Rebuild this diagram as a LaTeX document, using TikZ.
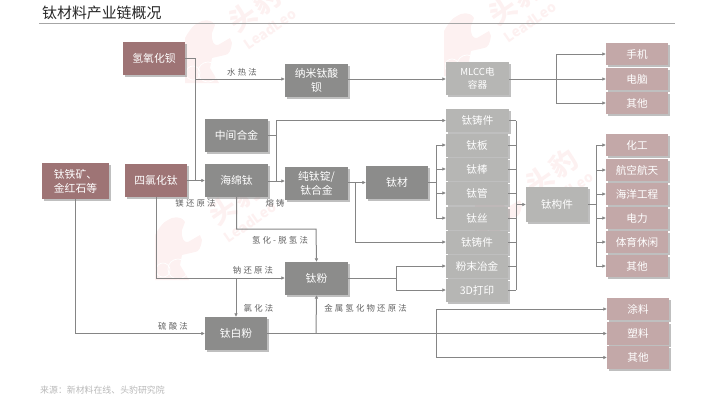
\documentclass[tikz,border=0pt]{standalone}
\usepackage{fontspec}
\setmainfont{Noto Sans CJK SC}
\newfontfamily\methodfont[LetterSpace=26]{Noto Sans CJK SC}
\usetikzlibrary{shadows,arrows.meta}
\definecolor{rustbox}{HTML}{9E7475}
\definecolor{darkbox}{HTML}{8C8C8B}
\definecolor{lightbox}{HTML}{B6B6B4}
\definecolor{pinkbox}{HTML}{C3A8A8}
\definecolor{linegrey}{HTML}{858585}
\definecolor{markpink}{HTML}{FDF1F1}
\tikzset{
  base/.style={text=white,inner sep=0pt,align=center,font=\fontsize{10.8}{14}\selectfont,
    drop shadow={shadow xshift=2.2pt,shadow yshift=-2.2pt,fill=black!50,opacity=.5}},
  rust/.style={base,fill=rustbox,minimum width=62pt,minimum height=33pt},
  dark/.style={base,fill=darkbox,minimum width=63pt,minimum height=33pt},
  light/.style={base,fill=lightbox,minimum width=62pt,minimum height=23pt,font=\fontsize{10.6}{13}\selectfont},
  pink/.style={base,fill=pinkbox,minimum width=62pt,minimum height=22.5pt,font=\fontsize{10.6}{13}\selectfont},
  method/.style={text=black!62,inner sep=0pt,font=\fontsize{8.4}{9}\methodfont},
  link/.style={draw=linegrey,line width=1pt},
  arrowlink/.style={link,-{Latex[length=3.5pt,width=3.8pt]}},
  markhead/.style={text=markpink,inner sep=0pt,rotate=35,font=\fontsize{27}{27}\selectfont\bfseries},
  markname/.style={text=markpink,inner sep=0pt,rotate=35,font=\fontsize{14}{14}\selectfont\bfseries}
}
\begin{document}
\begin{tikzpicture}[x=1pt,y=-1pt]
\useasboundingbox (0,0) rectangle (720,400);
% watermark
\foreach \lx/\ly/\hx/\hy [count=\wi] in {207/53/243/17,466/46/503/10,177/250/223/210,497/215/540/180}{
  \begin{scope}[shift={(\lx,\ly)}]
    \fill[markpink] (-22,30) -- (-22,-15) .. controls (-18,-22) and (-14,-28) .. (-9,-30)
      .. controls (-5,-33) and (4,-35) .. (8,-28) -- (5,-20) .. controls (4,-12) and (7,-7) .. (11,-8)
      -- (23,-15) -- (25,-10) .. controls (24,-3) and (22,2) .. (18,2) -- (5,5) -- (3,15) -- (12,30) -- cycle;
    \draw[white,line width=.7pt] (-14,20) circle (7) (1,19) circle (10);
  \end{scope}
  \node[markhead] (head\wi) at (\hx,\hy) {头};
  \node[markhead] (leo\wi) at (\hx+24,\hy-17) {豹};
  \node[markname] (name\wi) at (\hx+27,\hy+12) {LeadLeo};
}
% title
\node[anchor=west,inner sep=0pt,font=\fontsize{14.9}{16}\selectfont,text=black!85] (title) at (42,13) {钛材料产业链概况};
\coordinate (ruleL) at (39,23.5);
\coordinate (ruleR) at (675,23.5);
\draw[black!35,line width=.6pt] (ruleL) -- (ruleR);
\node[anchor=west,inner sep=0pt,font=\fontsize{8.9}{10}\selectfont,text=black!28] (source) at (40,390) {来源：新材料在线、头豹研究院};
% first column
\node[rust,minimum width=67pt,minimum height=36pt,align=left] (ore) at (75.5,181) {钛铁矿、\\金红石等};
\node[rust] (ticl) at (156,180.5) {四氯化钛};
\node[rust] (baoh) at (154,58.5) {氢氧化钡};
% dark boxes
\node[dark] (alloy) at (236.5,135.5) {中间合金};
\node[dark] (sponge) at (236.5,180.5) {海绵钛};
\node[dark] (nano) at (316.5,80.5) {纳米钛酸\\钡};
\node[dark] (ingot) at (316.5,183.5) {纯钛锭/\\钛合金};
\node[dark,minimum width=62pt] (mill) at (397,182.5) {钛材};
\node[dark] (powder) at (316.5,278.5) {钛粉};
\node[dark,minimum width=62pt] (white) at (236,333.5) {钛白粉};
% light boxes
\node[light,minimum width=63pt,minimum height=33pt,font=\fontsize{9.6}{13.5}\selectfont] (mlcc) at (477.5,78.5) {MLCC电\\容器};
\node[light,minimum width=63pt] (castA) at (477.5,120.5) {钛铸件};
\node[light] (plate) at (477,145) {钛板};
\node[light] (bar) at (477,169) {钛棒};
\node[light] (tube) at (477,193) {钛管};
\node[light] (wire) at (477,218) {钛丝};
\node[light] (castB) at (477,242) {钛铸件};
\node[light] (metal) at (477,266) {粉末冶金};
\node[light] (print) at (477,290) {3D打印};
\node[light,minimum height=35pt] (part) at (557,204.5) {钛构件};
% pink boxes
\node[pink] (phone) at (637,54) {手机};
\node[pink] (pc) at (637,79) {电脑};
\node[pink] (otherA) at (637,103) {其他};
\node[pink] (chem) at (637,145) {化工};
\node[pink] (aero) at (637,170) {航空航天};
\node[pink] (sea) at (637,194) {海洋工程};
\node[pink] (power) at (637,218) {电力};
\node[pink] (sport) at (637,242) {体育休闲};
\node[pink] (otherB) at (637,266) {其他};
\node[pink] (paint) at (638,309) {涂料};
\node[pink] (plastic) at (638,333.5) {塑料};
\node[pink] (otherC) at (638,357.5) {其他};
% junctions
\coordinate (hydro) at (195,79);
\coordinate (spongeIn) at (195,180.5);
\coordinate (alloyUp) at (276,120.5);
\coordinate (alloyDown) at (276,181);
\coordinate (ingotJoin) at (355,182.5);
\coordinate (millJoin) at (436,182.5);
\coordinate (castBus) at (516,120.5);
\coordinate (printBus) at (516,290);
\coordinate (partIn) at (516,204.5);
\coordinate (partJoin) at (596,204.5);
\coordinate (mlccJoin) at (556,79);
\coordinate (powderJoin) at (396,278);
\coordinate (naJoin) at (236,278);
\coordinate (hdhBend) at (316,229);
\coordinate (whiteJoin) at (316,333.5);
\coordinate (useJoin) at (436,333.5);
% connectors
\draw[link] (baoh.east) -| (spongeIn);
\draw[arrowlink] (hydro) -- (nano.west |- hydro);
\draw[arrowlink] (ticl.east) -- (sponge.west);
\draw[arrowlink] (nano.east |- hydro) -- (mlcc.west |- hydro);
\draw[arrowlink] (mlcc.east |- hydro) -- (pc.west);
\draw[arrowlink] (mlccJoin) |- (phone.west);
\draw[arrowlink] (mlccJoin) |- (otherA.west);
\draw[link] (alloy.east) -- (alloy.east -| alloyUp);
\draw[link] (alloyUp) -- (alloyDown);
\draw[arrowlink] (alloyUp) -- (castA.west);
\draw[arrowlink] (sponge.east |- alloyDown) -- (ingot.west |- alloyDown);
\draw[arrowlink] (ingot.east |- ingotJoin) -- (mill.west);
\draw[arrowlink] (ingotJoin) |- (castB.west);
\draw[link] (mill.east) -- (millJoin);
\foreach \target in {plate,bar,tube,wire}
  \draw[arrowlink] (millJoin) |- (\target.west);
\foreach \source in {castA,plate,bar,tube,wire,castB,metal,print}
  \draw[link] (\source.east) -- (\source.east -| castBus);
\draw[link] (castBus) -- (printBus);
\draw[arrowlink] (partIn) -- (part.west);
\draw[link] (part.east) -- (partJoin);
\foreach \target in {chem,aero,sea,power,sport,otherB}
  \draw[arrowlink] (partJoin) |- (\target.west);
\draw[arrowlink] (ticl.south) |- (powder.west |- naJoin);
\draw[arrowlink] (naJoin) -- (white.north -| naJoin);
\draw[arrowlink] (sponge.south) |- (hdhBend) -- (powder.north);
\draw[arrowlink] (ore.south) |- (white.west);
\draw[arrowlink] (white.east) -- (plastic.west);
\draw[arrowlink] (whiteJoin) -- (powder.south);
\draw[arrowlink] (useJoin) |- (paint.west);
\draw[arrowlink] (useJoin) |- (otherC.west);
\draw[link] (powder.east |- powderJoin) -- (powderJoin);
\draw[arrowlink] (powderJoin) |- (metal.west);
\draw[arrowlink] (powderJoin) |- (print.west);
% method labels
\node[method] (hydroText) at (242,72.5) {水热法};
\node[method] (mgText) at (195.5,203.5) {镁还原法};
\node[method] (meltText) at (275,203.5) {熔铸};
\node[method] (hdhText) at (280,240) {氢化-脱氢法};
\node[method] (naText) at (253,270.5) {钠还原法};
\node[method] (clText) at (258.5,308) {氯化法};
\node[method] (acidText) at (173,326) {硫酸法};
\node[method] (hydrideText) at (365.5,308.5) {金属氢化物还原法};
\end{tikzpicture}
\end{document}
